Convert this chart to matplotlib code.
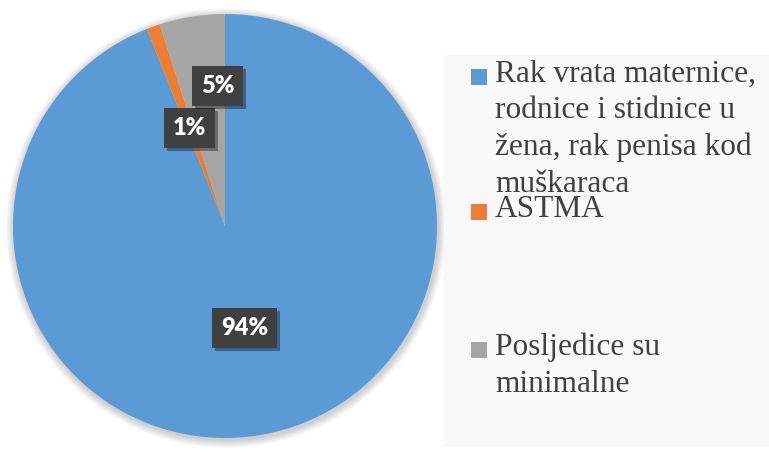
import numpy as np
import matplotlib
matplotlib.use("Agg")
import matplotlib.pyplot as plt
import matplotlib.patches as mpatches
import matplotlib.patheffects as pe

# ==================== Data ====================
categories = ["Rak vrata maternice,\nrodnice i stidnice u\nžena, rak penisa kod\nmuškaraca",
              "ASTMA",
              "Posljedice su\nminimalne"]
shares = [94, 1, 5]
labels = ["94%", "1%", "5%"]
colors = ["#5b9bd5", "#ed7d31", "#a5a5a5"]

# ==================== Figure ====================
W, H = 769, 454
fig = plt.figure(figsize=(W / 100, H / 100), dpi=100)
ax = fig.add_axes([0, 0, 1, 1])

cx, cy, R = 225, 228, 212

# soft shadow behind the pie
for k in range(8):
    ax.add_patch(mpatches.Circle((cx + 1, cy - 2), R + 1 + k, color="black",
                                 alpha=0.025, lw=0, zorder=0))

wedges, _ = ax.pie(shares, colors=colors, startangle=90, counterclock=False,
                   center=(cx, cy), radius=R, frame=True,
                   wedgeprops=dict(linewidth=0))

# data labels (dark boxes), distance from centre as fraction of radius
label_dist = [0.49, 0.49, 0.66]
label_shift = [0, 0, -6]   # degrees, like Excel's nudging of crowded labels
shadow = [pe.withSimplePatchShadow(offset=(2, -2), shadow_rgbFace="black", alpha=0.35)]
for w, lab, d, s in zip(wedges, labels, label_dist, label_shift):
    ang = np.deg2rad((w.theta1 + w.theta2) / 2 + s)
    t = ax.text(cx + d * R * np.cos(ang), cy + d * R * np.sin(ang), lab,
                ha="center", va="center", color="white", fontsize=17,
                fontweight="heavy", family="Lato", zorder=5,
                bbox=dict(boxstyle="square,pad=0.38", facecolor="#404040",
                          edgecolor="none"))
    t.get_bbox_patch().set_path_effects(shadow)

# ==================== Legend ====================
ax.add_patch(mpatches.Rectangle((444, H - 447), W - 444, 392,
                                facecolor="#f8f8f8", edgecolor="none", zorder=1))

first_baseline = [82, 217, 355]
line_gap = 36.5
for cat, col, yb in zip(categories, colors, first_baseline):
    ax.add_patch(mpatches.Rectangle((471, H - yb - 3), 16, 16,
                                    facecolor=col, edgecolor="none", zorder=2))
    for i, line in enumerate(cat.split("\n")):
        ax.text(495, H - (yb + i * line_gap), line, ha="left", va="baseline",
                fontsize=22.6, family="Liberation Serif", color="#404040",
                zorder=3)

ax.set_xlim(0, W)
ax.set_ylim(0, H)
ax.set_aspect("equal")
ax.axis("off")

fig.savefig("out.png", dpi=100)
